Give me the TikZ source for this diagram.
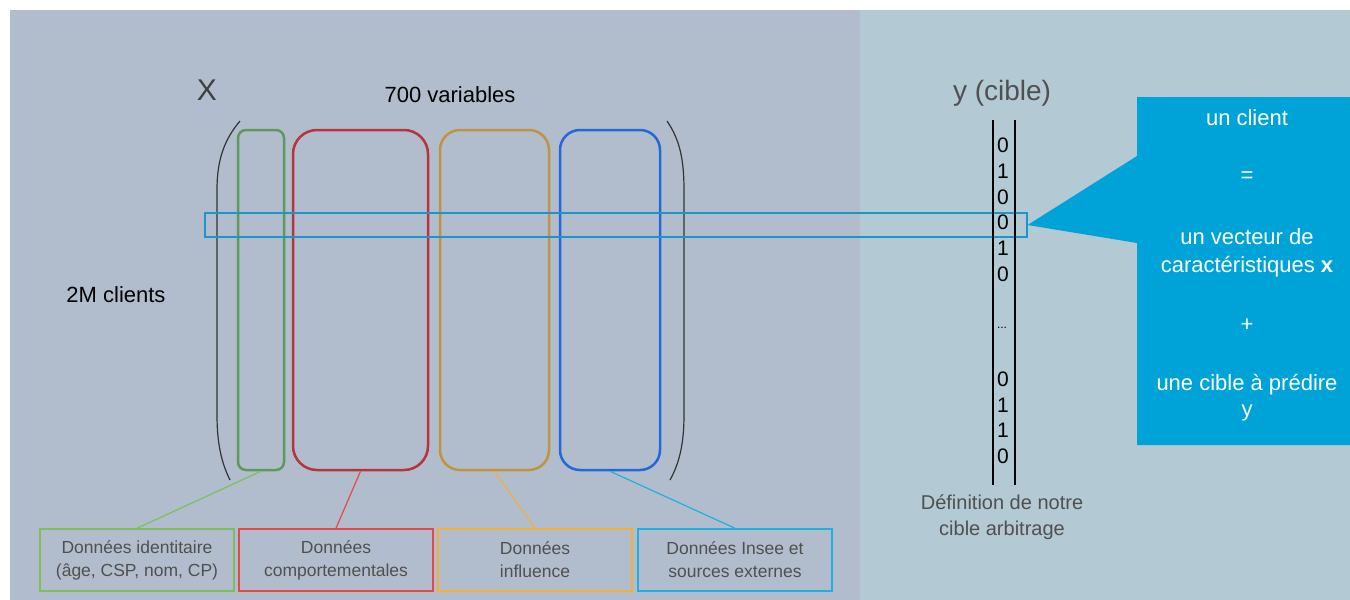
\documentclass[tikz,border=0pt]{standalone}
\usepackage{fontspec}
\setmainfont{Liberation Sans}
\definecolor{panelL}{HTML}{B1BDCD}
\definecolor{panelR}{HTML}{B3C9D3}
\definecolor{greenrect}{HTML}{5B9A5B}
\definecolor{greenbox}{HTML}{7CC05C}
\definecolor{redrect}{HTML}{B8343C}
\definecolor{redbox}{HTML}{E8474A}
\definecolor{orangerect}{HTML}{C19240}
\definecolor{orangebox}{HTML}{F2B134}
\definecolor{bluerect}{HTML}{2468D8}
\definecolor{bluebox}{HTML}{1FB0E0}
\definecolor{rowblue}{HTML}{1B96CB}
\definecolor{callout}{HTML}{00A3D8}
\definecolor{textgray}{HTML}{505050}
\tikzset{
  group/.style = {draw, line width=2.5pt, minimum height=340pt, inner sep=0pt},
  catbox/.style = {draw, line width=1.5pt, minimum width=194pt, minimum height=62pt,
                   align=center, text=textgray, font=\fontsize{17.5}{23}\selectfont},
  link/.style = {line width=1.2pt},
  digit/.style = {font=\fontsize{21}{21}\selectfont, inner sep=0pt},
  calltext/.style = {text=white, font=\fontsize{22}{22}\selectfont}
}
\begin{document}
\begin{tikzpicture}[x=1pt, y=-1pt]
\useasboundingbox (0,0) rectangle (1350,600);
\fill[white] (0,0) rectangle (1350,600);
\fill[panelL] (10,10) rectangle (860,600);
\fill[panelR] (860,10) rectangle (1350,600);

% matrix X
\node [text=textgray!80!black, font=\fontsize{30}{30}\selectfont] (xlabel) at (207,90) {X};
\node [font=\fontsize{22}{22}\selectfont] (nvar) at (450,95) {700 variables};
\node [font=\fontsize{22}{22}\selectfont] (nclient) at (116,295) {2M clients};

\draw [line width=1.2pt, black!80] (240,121) .. controls (224,140) and (217,160) .. (217,190)
  -- (217,415) .. controls (217,442) and (221,462) .. (230,480);
\draw [line width=1.2pt, black!80] (667,121) .. controls (680,140) and (684,160) .. (684,190)
  -- (684,415) .. controls (684,442) and (680,462) .. (670,480);

\node [group, draw=greenrect, minimum width=46pt, rounded corners=8pt] (ident) at (261,300) {};
\node [group, draw=redrect, minimum width=135pt, rounded corners=24pt] (comport) at (360.5,300) {};
\node [group, draw=orangerect, minimum width=109pt, rounded corners=20pt] (influ) at (494.5,300) {};
\node [group, draw=bluerect, minimum width=100pt, rounded corners=20pt] (insee) at (610,300) {};

% one client row
\node [draw=rowblue, line width=1.2pt, minimum width=822pt, minimum height=24pt, inner sep=0pt] (row) at (616,225) {};

% target y
\node [text=textgray, font=\fontsize{28}{28}\selectfont] (ylabel) at (1002,93) {y (cible)};
\draw [line width=1.2pt] (993,120) -- (993,485);
\draw [line width=1.2pt] (1015,120) -- (1015,485);
\foreach \d/\yy [count=\i] in {0/145,1/171,0/197,0/222,1/248,0/274,0/379,1/405,1/430,0/456}
  \node [digit] (d\i) at (1003,\yy) {\d};
\node [font=\fontsize{12}{12}\selectfont, inner sep=0pt] (dots) at (1002,328) {...};
\node [text=textgray, font=\fontsize{20}{20}\selectfont] (def1) at (1002,502) {Définition de notre};
\node [text=textgray, font=\fontsize{20}{20}\selectfont] (def2) at (1002,530) {cible arbitrage};

% callout
\fill [callout] (1137,97) -- (1350,97) -- (1350,445) -- (1137,445) -- (1137,243)
  -- (row.east) -- (1137,156) -- cycle;
\node [calltext] (c1) at (1247,118) {un client};
\node [calltext] (c2) at (1247,177) {=};
\node [calltext] (c3) at (1247,237) {un vecteur de};
\node [calltext] (c4) at (1247,267) {caractéristiques \textbf{x}};
\node [calltext] (c5) at (1247,325) {+};
\node [calltext] (c6) at (1247,385) {une cible à prédire};
\node [calltext] (c7) at (1247,413) {y};

% categories
\node [catbox, draw=greenbox] (bident) at (137,560) {Données identitaire\\(âge, CSP, nom, CP)};
\node [catbox, draw=redbox] (bcomport) at (336,560) {Données\\comportementales};
\node [catbox, draw=orangebox] (binflu) at (535,560) {Données\\influence};
\node [catbox, draw=bluebox] (binsee) at (735,560) {Données Insee et\\sources externes};

\draw [link, greenbox] (ident.south) -- (bident.north);
\draw [link, redbox] (comport.south) -- (bcomport.north);
\draw [link, orangebox] (influ.south) -- (binflu.north);
\draw [link, bluebox] (insee.south) -- (binsee.north);
\end{tikzpicture}
\end{document}
